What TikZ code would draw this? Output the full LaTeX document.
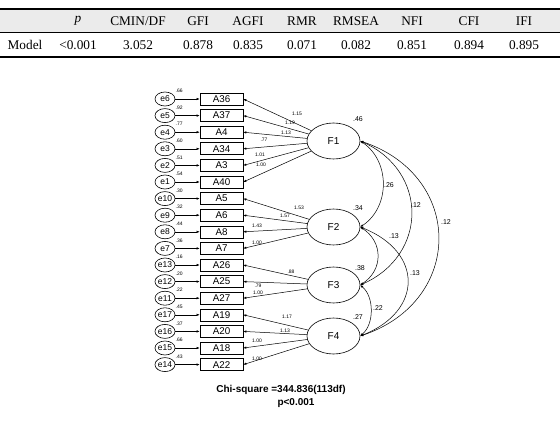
\documentclass[tikz,border=0pt]{standalone}
\usepackage{fontspec}
\setmainfont{Liberation Serif}
\newfontfamily\dsans{Liberation Sans}
\usetikzlibrary{arrows.meta,shapes.geometric}
\begin{document}
\begin{tikzpicture}[x=1pt,y=-1pt,
  tcell/.style={font=\fontsize{13.3}{14}\selectfont, inner sep=0pt, anchor=center},
  ebox/.style={ellipse, draw, line width=0.6pt, minimum width=20pt, minimum height=14pt, inner sep=0pt, font=\dsans\fontsize{8.5}{8.5}\selectfont},
  ibox/.style={rectangle, draw, line width=0.6pt, minimum width=43pt, minimum height=12pt, inner sep=0pt, font=\dsans\fontsize{9.8}{9.8}\selectfont},
  fbox/.style={ellipse, draw, line width=0.6pt, minimum width=53pt, minimum height=36pt, inner sep=0pt, font=\dsans\fontsize{10}{10}\selectfont},
  arr/.style={-{Latex[length=3pt,width=2.4pt]}, line width=0.5pt},
  cov/.style={{Latex[length=3pt,width=2.4pt]}-{Latex[length=3pt,width=2.4pt]}, line width=0.5pt},
  tiny/.style={font=\dsans\fontsize{5}{5}\selectfont, inner sep=0pt},
  mid/.style={font=\dsans\fontsize{7}{7}\selectfont, inner sep=0pt}]
\useasboundingbox (0,0) rectangle (560,425);
% table
\fill[black!8] (0,9) rectangle (560,32);
\draw[line width=1.4pt] (0,9) -- (560,9);
\draw[line width=0.6pt] (0,32.5) -- (560,32.5);
\draw[line width=1.4pt] (0,57) -- (560,57);
\foreach \x/\h/\v in {78/{\itshape p}/{<0.001}, 138/CMIN\slash DF/3.052, 198/GFI/0.878, 248/AGFI/0.835, 302/RMR/0.071, 356/RMSEA/0.082, 412/NFI/0.851, 469/CFI/0.894, 524/IFI/0.895}{
  \node[tcell] at (\x,21) {\h};
  \node[tcell] at (\x,45) {\v};
}
\node[tcell] (model) at (25,45) {Model};
% indicators
\foreach \i/\a/\en/\v in {0/A36/e6/.66, 1/A37/e5/.92, 2/A4/e4/.77, 3/A34/e3/.60, 4/A3/e2/.51, 5/A40/e1/.54, 6/A5/e10/.30, 7/A6/e9/.32, 8/A8/e8/.44, 9/A7/e7/.36, 10/A26/e13/.16, 11/A25/e12/.20, 12/A27/e11/.22, 13/A19/e17/.45, 14/A20/e16/.37, 15/A18/e15/.66, 16/A22/e14/.43}{
  \pgfmathsetmacro\yy{99+16.6*\i}
  \node[ebox] (\en) at (165,\yy) {\en};
  \node[ibox] (\a) at (221.5,\yy) {\a};
  \draw[arr] (\en) -- (\a);
  \node[tiny, anchor=west] at (175.5,\yy-8) {\v};
}
% factors
\node[fbox] (F1) at (333.5,141) {F1};
\node[fbox] (F2) at (333.5,227) {F2};
\node[fbox] (F3) at (333.5,285) {F3};
\node[fbox] (F4) at (333.5,336) {F4};
\node[mid] at (358,119) {.46};
\node[mid] at (358,208) {.34};
\node[mid] at (360,268) {.38};
\node[mid] at (358,317) {.27};
% loadings
\foreach \f/\a/\l/\lx/\ly in {F1/A36/1.15/297/114, F1/A37/1.19/290/123, F1/A4/1.13/286/133, F1/A34/.77/264/140, F1/A3/1.01/260/155, F1/A40/1.00/261/165,
  F2/A5/1.53/299/208, F2/A6/1.57/285/216, F2/A8/1.43/257/226, F2/A7/1.00/257/243,
  F3/A26/.88/291/272, F3/A25/.79/258/286, F3/A27/1.00/258/293,
  F4/A19/1.17/287/317, F4/A20/1.13/285/331, F4/A18/1.00/257/341, F4/A22/1.00/257/359}{
  \draw[arr] (\f) -- (\a.east);
  \node[tiny] at (\lx,\ly) {\l};
}
% covariances
\draw[cov] (F1.east) .. controls +(30,20) and +(30,-20) .. (F2.east);
\draw[cov] (F1.east) .. controls +(68,30) and +(68,-30) .. (F3.east);
\draw[cov] (F1.east) .. controls +(104,35) and +(104,-35) .. (F4.east);
\draw[cov] (F2.east) .. controls +(23,15) and +(23,-15) .. (F3.east);
\draw[cov] (F2.east) .. controls +(63,25) and +(63,-25) .. (F4.east);
\draw[cov] (F3.east) .. controls +(14,12) and +(14,-12) .. (F4.east);
\node[mid] at (389,185) {.26};
\node[mid] at (416,205) {.12};
\node[mid] at (446,222) {.12};
\node[mid] at (394,236) {.13};
\node[mid] at (415,273) {.13};
\node[mid] at (378,308) {.22};
% fit
\node[font=\dsans\bfseries\fontsize{10}{10}\selectfont, inner sep=0pt] (chi) at (281,390) {Chi-square =344.836(113df)};
\node[font=\dsans\bfseries\fontsize{10}{10}\selectfont, inner sep=0pt] (pv) at (296,403) {p<0.001};
\end{tikzpicture}
\end{document}
